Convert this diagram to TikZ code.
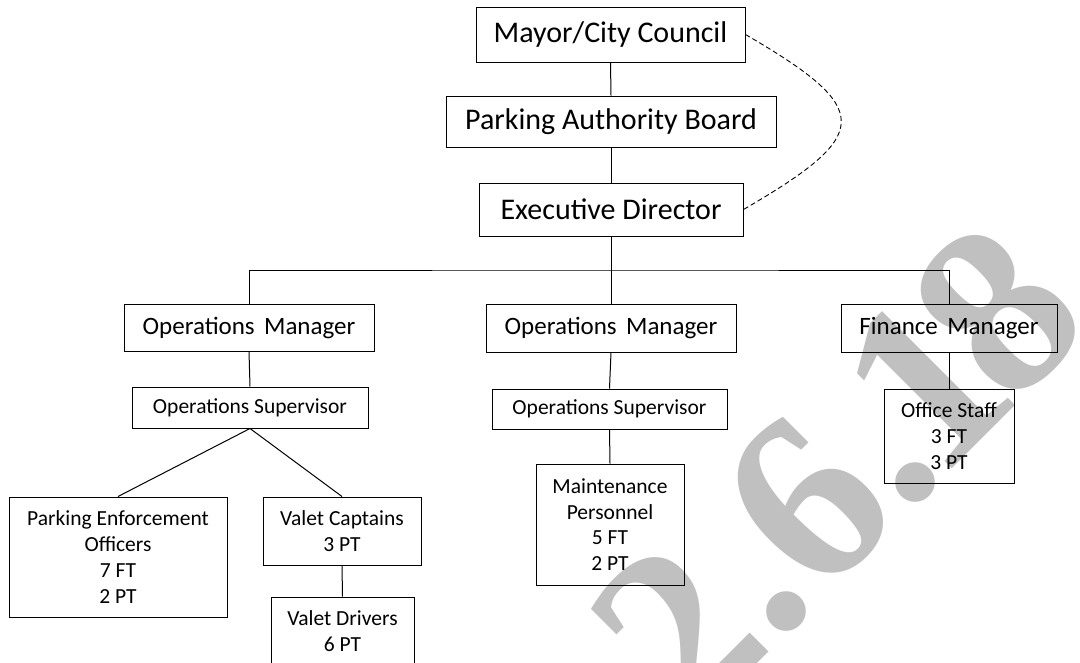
\documentclass[tikz,border=0pt]{standalone}
\usepackage{fontspec}
\setmainfont{Carlito}
\newfontfamily\wmfont{Liberation Serif}[BoldFont={* Bold}]
\definecolor{wmgray}{RGB}{192,192,192}
\begin{document}
\begin{tikzpicture}[x=1pt,y=-1pt,
  box/.style={draw, line width=1pt, rectangle, inner sep=0pt, align=center},
  big/.style={box, font=\fontsize{30}{36}\selectfont},
  mid/.style={box, font=\fontsize{25}{30}\selectfont},
  small/.style={box, font=\fontsize{21.5}{25.7}\selectfont},
  link/.style={line width=1pt}]
\useasboundingbox (0,0) rectangle (1080,662);
\clip (0,0) rectangle (1080,662);
\fill[white] (0,0) rectangle (1080,662);
% watermark
\node[rotate=45, anchor=base west, inner sep=0pt, text=wmgray,
  font=\wmfont\bfseries\fontsize{243}{243}\selectfont] (wm) at (690.5,730.5) {2.6.\kern-0.06em1\kern-0.08em8};
% boxes
\node[big, minimum width=269pt, minimum height=55pt] (mayor) at (610.5,34.5) {Mayor/City Council};
\node[big, minimum width=330pt, minimum height=51pt] (pab) at (611,121.5) {Parking Authority Board};
\node[big, minimum width=264pt, minimum height=53pt] (exec) at (611,209.5) {Executive Director};
\node[mid, minimum width=250pt, minimum height=47pt] (om1) at (249,327.5) {Operations\hspace{0.15em} Manager};
\node[mid, minimum width=250pt, minimum height=48pt] (om2) at (611,328) {Operations\hspace{0.15em} Manager};
\node[mid, minimum width=216pt, minimum height=48pt] (fm) at (949,328) {Finance\hspace{0.15em} Manager};
\node[small, minimum width=236pt, minimum height=41pt] (os1) at (250,407.5) {Operations Supervisor};
\node[small, minimum width=235pt, minimum height=40pt] (os2) at (609.5,409) {Operations Supervisor};
\node[small, minimum width=130pt, minimum height=94pt] (office) at (949,436) {Office Staff\\3 FT\\3 PT};
\node[small, minimum width=148pt, minimum height=121pt] (maint) at (610,524.5) {Maintenance\\Personnel\\5 FT\\2 PT};
\node[small, minimum width=218pt, minimum height=120pt] (peo) at (118,557) {Parking Enforcement\\Officers\\7 FT\\2 PT};
\node[small, minimum width=158pt, minimum height=68pt] (vc) at (342,531) {Valet Captains\\3 PT};
\node[small, minimum width=143pt, minimum height=68pt] (vd) at (342.5,631) {Valet Drivers\\6 PT};
% connectors
\coordinate (bus) at (611,270);
\draw[link] (mayor.south) -- (pab.north);
\draw[link] (pab.south) -- (exec.north);
\draw[link] (exec.south) -- (bus);
\draw[link] (om1.north) |- (bus) -| (fm.north);
\draw[link] (om2.north) -- (bus);
\draw[link] (om1.south) -- (os1.north);
\draw[link] (om2.south) -- (os2.north);
\draw[link] (fm.south) -- (office.north);
\draw[link] (os1.south) -- (peo.north);
\draw[link] (os1.south) -- (vc.north);
\draw[link] (vc.south) -- (vd.north);
\draw[link] (os2.south) -- (maint.north);
\draw[line width=0.9pt, dash pattern=on 5pt off 3pt] (mayor.east) .. controls +(129,75) and +(129,-75) .. (exec.east);
\end{tikzpicture}
\end{document}
